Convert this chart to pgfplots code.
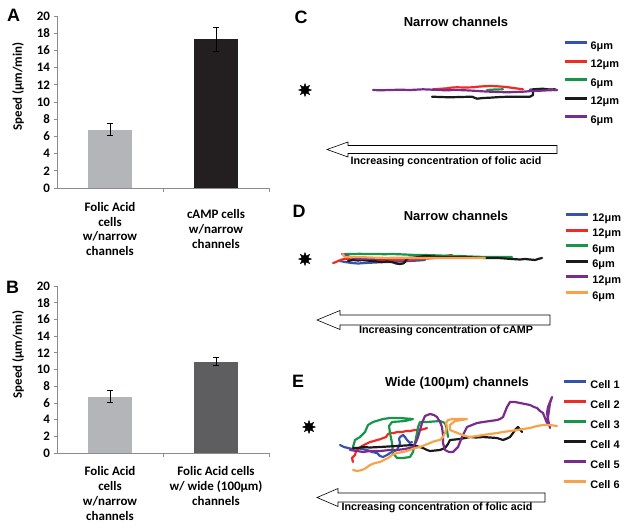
\documentclass[border=0pt]{standalone}
\usepackage{pgfplots}
\pgfplotsset{compat=1.18}
\usepackage{fontspec}
\setmainfont{Liberation Sans}
\newfontfamily\carlito{Carlito}

\definecolor{barlight}{HTML}{B4B5B8}
\definecolor{bardark}{HTML}{231F20}
\definecolor{barmid}{HTML}{5E5E60}
\definecolor{axgray}{HTML}{8C8C8C}
\definecolor{tblue}{HTML}{3553A8}
\definecolor{tred}{HTML}{EE2B24}
\definecolor{tgreen}{HTML}{17964A}
\definecolor{tblack}{HTML}{1A1A1A}
\definecolor{tpurple}{HTML}{7A2C8C}
\definecolor{torange}{HTML}{F7A34B}

\pgfdeclareplotmark{burst}{%
  \pgfpathmoveto{\pgfpointpolar{90}{\pgfplotmarksize}}%
  \pgfpathlineto{\pgfpointpolar{112.5}{0.5\pgfplotmarksize}}%
  \pgfpathlineto{\pgfpointpolar{135}{\pgfplotmarksize}}%
  \pgfpathlineto{\pgfpointpolar{157.5}{0.5\pgfplotmarksize}}%
  \pgfpathlineto{\pgfpointpolar{180}{\pgfplotmarksize}}%
  \pgfpathlineto{\pgfpointpolar{202.5}{0.5\pgfplotmarksize}}%
  \pgfpathlineto{\pgfpointpolar{225}{\pgfplotmarksize}}%
  \pgfpathlineto{\pgfpointpolar{247.5}{0.5\pgfplotmarksize}}%
  \pgfpathlineto{\pgfpointpolar{270}{\pgfplotmarksize}}%
  \pgfpathlineto{\pgfpointpolar{292.5}{0.5\pgfplotmarksize}}%
  \pgfpathlineto{\pgfpointpolar{315}{\pgfplotmarksize}}%
  \pgfpathlineto{\pgfpointpolar{337.5}{0.5\pgfplotmarksize}}%
  \pgfpathlineto{\pgfpointpolar{0}{\pgfplotmarksize}}%
  \pgfpathlineto{\pgfpointpolar{22.5}{0.5\pgfplotmarksize}}%
  \pgfpathlineto{\pgfpointpolar{45}{\pgfplotmarksize}}%
  \pgfpathlineto{\pgfpointpolar{67.5}{0.5\pgfplotmarksize}}%
  \pgfpathclose\pgfusepathqfillstroke}

\pgfplotsset{
  barpanel/.style={
    scale only axis, width=212bp,
    axis lines*=left, axis line style={axgray, line width=0.7bp},
    xmin=-0.5, xmax=1.5, ymin=0, ymax=20, enlargelimits=false,
    ytick={0,2,...,20}, tick align=outside, major tick length=3.5bp,
    ytick style={axgray, line width=0.7bp},
    xtick={0,1}, xtick style={draw=none},
    extra x ticks={0.5,1.5}, extra x tick labels={},
    extra x tick style={xtick style={draw=axgray, line width=0.7bp}},
    tick label style={font=\carlito\bfseries\fontsize{13}{15}\selectfont},
    /pgf/number format/assume math mode=true,
    xticklabel style={align=center},
    ylabel={Speed (μm/min)},
    every axis y label/.style={at={(axis description cs:-0.184,0.59)}, rotate=90, anchor=center,
      font=\carlito\bfseries\fontsize{13}{14}\selectfont},
    ybar, bar width=44bp, bar shift=0pt,
  },
  ebar/.style={draw=none, fill=#1, error bars/.cd, y dir=both, y explicit,
    error bar style={black, line width=0.7bp},
    error mark options={rotate=90, mark size=3bp, black, line width=0.7bp}},
  trajpanel/.style={
    scale only axis, width=334bp, xmin=290, xmax=624, hide axis, clip=false,
    enlargelimits=false, y filter/.expression={-y},
    legend style={draw=none, fill=none, inner sep=0pt, outer sep=0pt,
      anchor=north west, cells={anchor=west},
      font=\bfseries\fontsize{11}{11}\selectfont,
      nodes={inner sep=0pt, text height=8bp, text depth=2bp}},
    legend image code/.code={\draw[##1, line width=3bp, line cap=butt] (0bp,3.5bp) -- (22bp,3.5bp);},
    /tikz/every odd column/.append style={column sep=2.5bp},
  },
  traj/.style={#1, line width=2.2bp, line join=round, line cap=round},
}

\begin{document}
\begin{tikzpicture}[x=1bp, y=1bp]
\path[use as bounding box] (0,0) rectangle (624,-531);

% ---------- Panel A ----------
\begin{axis}[barpanel, height=172bp, at={(57bp,-188bp)}, anchor=south west,
  xticklabels={{Folic Acid\\cells\\w/narrow\\channels},{cAMP cells\\w/narrow\\channels}},
  xticklabel style={anchor=center, yshift=-37.5bp}]
\addplot[ebar=barlight] coordinates {(0,6.8) +- (0,0.7)};
\addplot[ebar=bardark] coordinates {(1,17.3) +- (0,1.4)};
\end{axis}

% ---------- Panel B ----------
\begin{axis}[barpanel, height=167bp, at={(57bp,-453bp)}, anchor=south west,
  xticklabels={{Folic Acid\\cells\\w/narrow\\channels},{Folic Acid cells\\w/ wide (100μm)\\channels}},
  xticklabel style={anchor=north, yshift=-10bp, inner sep=0pt}]
\addplot[ebar=barlight] coordinates {(0,6.75) +- (0,0.7)};
\addplot[ebar=barmid] coordinates {(1,10.95) +- (0,0.5)};
\end{axis}

% ---------- Panel C ----------
\begin{axis}[trajpanel, height=180bp, ymin=-180, ymax=0, at={(290bp,-180bp)}, anchor=south west,
  legend style={at={(axis description cs:0.8174,0.772)}},
  legend style={row sep=8.5bp}]
\addplot[traj=tblue] coordinates {(530,89.5) (540,90) (550,89.8) (557,90)};
\addlegendentry{6μm}
\addplot[traj=tred] coordinates {(433,89.3) (440,88.8) (447,88.3) (452,87.5) (457,87.3) (465,87.5) (473,87.3) (480,86.5) (490,86) (497,86.3) (503,86.7) (510,87.5) (517,88.5) (523,89.3)};
\addlegendentry{12μm}
\addplot[traj=tgreen] coordinates {(487,90) (495,89.5) (503,89.3)};
\addlegendentry{6μm}
\addplot[traj=tblack] coordinates {(432,96.7) (440,97) (450,97.3) (460,97) (472,96.7) (477,98.7) (483,98) (490,97.7) (500,97) (510,96.7) (520,96.8) (530,96.7) (533,95) (533,93.3) (533,89.3) (538,89) (543,88.7) (549,89.5) (555,89.3)};
\addlegendentry{12μm}
\addplot[traj=tpurple] coordinates {(373,90) (380,90.3) (390,90) (400,89.7) (410,90) (423,89.3) (435,89.8) (445,90.3) (457,90) (465,90.3) (473,90.7) (482,91.3) (490,91.7) (498,92) (507,92.3) (515,92) (523,91.7) (532,91) (540,90.7) (550,90.2) (557,90)};
\addlegendentry{6μm}
\addplot[only marks, mark=burst, mark size=6.5bp, black, forget plot] coordinates {(305,90)};
\node[font=\bfseries\fontsize{13}{13}\selectfont] at (axis cs:456,-22) {Narrow channels};
\end{axis}

% ---------- Panel D ----------
\begin{axis}[trajpanel, height=160bp, ymin=-345, ymax=-185, at={(290bp,-345bp)}, anchor=south west,
  legend style={at={(axis description cs:0.823,0.825)}},
  legend style={row sep=5.6bp}]
\addplot[traj=tblue] coordinates {(340,261) (345,262) (352,263) (358,263.5) (365,263) (375,262.5) (385,262) (392,262) (400,261.5) (410,261) (418,260.5) (425,260)};
\addlegendentry{12μm}
\addplot[traj=tred] coordinates {(333,263) (336,262) (338,261) (342,259.5) (345,259) (352,259.5) (360,260) (368,260) (375,260) (385,260) (395,260) (408,260) (418,259) (428,258.5) (435,258) (442,256.5) (448,255.5) (452,255)};
\addlegendentry{12μm}
\addplot[traj=tgreen] coordinates {(345,254) (352,254) (360,253.8) (365,254) (375,254) (385,254.2) (392,254) (405,254.5) (415,255) (425,255) (440,255.5) (450,256) (458,256) (470,256.5) (485,257) (500,257) (512,257)};
\addlegendentry{6μm}
\addplot[traj=tblack] coordinates {(348,261) (353,260) (358,260.5) (362,260) (367,260.5) (372,261) (377,261.5) (382,262) (387,261.5) (392,262) (396,263.5) (400,264) (403,263.5) (405,262) (406,260) (408,258) (415,257.5) (425,256) (433,256.5) (442,257) (452,257.2) (465,257) (475,257.5) (485,258) (498,258) (505,258.5) (512,259) (520,259.5) (525,259) (530,259.5) (535,260) (538,259) (542,258)};
\addlegendentry{6μm}
\addplot[traj=tpurple] coordinates {(342,254) (344,254.5) (345,255) (350,257) (358,259) (368,258.8) (380,258.5) (392,258) (405,258) (418,258)};
\addlegendentry{12μm}
\addplot[traj=torange] coordinates {(343,254) (344,256) (345,257) (352,257) (358,257) (370,257.5) (380,257.8) (392,258) (405,258) (415,258) (425,258) (440,258) (458,258) (470,258) (485,258)};
\addlegendentry{6μm}
\addplot[only marks, mark=burst, mark size=6.5bp, black, forget plot] coordinates {(305,259)};
\node[font=\bfseries\fontsize{13}{13}\selectfont] at (axis cs:456,-216) {Narrow channels};
\end{axis}

% ---------- Panel E ----------
\begin{axis}[trajpanel, height=181bp, ymin=-531, ymax=-350, at={(290bp,-531bp)}, anchor=south west,
  legend style={at={(axis description cs:0.817,0.834)}},
  legend style={row sep=10bp}]
\addplot[traj=tblue] coordinates {(340,445) (344,447) (348,448) (352,449) (357,448) (362,449) (367,450) (372,452) (377,453) (380,456) (383,457) (387,455) (390,453) (394,451) (397,450) (399,446) (400,443) (399,439) (400,437) (403,435) (405,437) (407,440) (410,443) (412,442)};
\addlegendentry{Cell 1}
\addplot[traj=tred] coordinates {(353,462) (352,458) (355,455) (356,451) (358,449) (362,446) (366,444) (370,442) (374,441) (377,440) (381,439) (383,438) (386,437) (388,434) (390,433) (394,433) (397,432) (402,432) (406,431) (410,431) (415,430) (420,430) (424,429) (427,428)};
\addlegendentry{Cell 2}
\addplot[traj=tgreen] coordinates {(353,447) (355,440) (360,437) (365,432) (368,425) (373,422) (383,419) (390,418) (400,418) (413,419) (405,421) (392,422) (389,426) (390,433) (392,443) (393,453) (397,458) (403,458) (410,457) (413,452) (415,443) (417,433) (418,427) (420,422) (427,422) (440,421) (445,423) (447,430) (448,437)};
\addlegendentry{Cell 3}
\addplot[traj=tblack] coordinates {(353,448) (358,448) (363,447) (370,447.5) (380,447) (388,446.5) (397,446) (405,445.5) (413,445) (418,446.5) (423,448) (427,450) (430,451) (435,450.5) (440,450) (445,448) (448,444) (450,440) (455,439.5) (460,439) (465,438) (470,437) (476,437.5) (483,437) (490,437.5) (497,438) (503,440) (507,438.5) (510,437) (513,433) (515,430) (518,427) (522,432)};
\addlegendentry{Cell 4}
\addplot[traj=tpurple] coordinates {(350,450) (357,451) (363,452) (370,451) (380,451) (390,450) (397,450) (405,449) (413,447) (416,442) (418,437) (420,430) (422,423) (425,416) (430,414) (434,415) (437,417) (440,422) (442,427) (443,435) (443,443) (445,450) (449,452) (453,452) (456,449) (458,447) (460,442) (462,437) (465,431) (467,427) (472,425) (477,423) (483,422) (490,421) (497,420) (500,419) (503,417) (505,412) (507,407) (510,402) (515,402) (520,403) (525,404) (530,405) (534,407) (537,408) (540,411) (543,413) (545,418) (547,423) (548,417) (549,410) (550,403) (552,397) (550,402) (548,407) (547,413) (548,419) (549,424) (550,428)};
\addlegendentry{Cell 5}
\addplot[traj=torange] coordinates {(353,470) (357,471) (362,470) (366,468) (370,465) (375,463) (380,462) (384,460) (388,458) (392,455) (397,453) (403,452) (410,450) (415,448) (420,447) (425,445) (430,443) (435,441) (440,440) (443,437) (445,433) (447,427) (446,423) (448,420) (453,419) (460,419) (467,419) (462,420) (455,421) (450,425) (450,430) (455,432) (460,434) (465,436) (470,437) (477,436) (483,435) (490,434) (497,433) (503,432) (510,431) (517,430) (523,429) (530,428) (537,426) (543,425) (550,425) (557,426)};
\addlegendentry{Cell 6}
\addplot[only marks, mark=burst, mark size=6.5bp, black, forget plot] coordinates {(309,427)};
\node[font=\bfseries\fontsize{13}{13}\selectfont] at (axis cs:457,-383) {Wide (100μm) channels};
\end{axis}

% ---------- Arrows and texts ----------
\draw[fill=white, line width=0.6bp] (557,-145.5) -- (348,-145.5) -- (348,-142) -- (327,-149.5) -- (348,-157) -- (348,-153.5) -- (557,-153.5) -- cycle;
\node[font=\bfseries\fontsize{10.8}{11}\selectfont] at (446,-161.5) {Increasing concentration of folic acid};
\draw[fill=white, line width=0.6bp] (550,-315) -- (340,-315) -- (340,-310.5) -- (317,-320) -- (340,-329.5) -- (340,-325) -- (550,-325) -- cycle;
\node[font=\bfseries\fontsize{10.8}{11}\selectfont] at (446,-331) {Increasing concentration of cAMP};
\draw[fill=white, line width=0.6bp] (545,-493) -- (338,-493) -- (338,-488.5) -- (317,-497.5) -- (338,-506.5) -- (338,-502) -- (545,-502) -- cycle;
\node[font=\bfseries\fontsize{10.8}{11}\selectfont] at (437,-507.5) {Increasing concentration of folic acid};

% ---------- Panel letters ----------
\node[font=\bfseries\fontsize{18}{18}\selectfont] at (13.5,-15.5) {A};
\node[font=\bfseries\fontsize{18}{18}\selectfont] at (12.5,-287.5) {B};
\node[font=\bfseries\fontsize{18}{18}\selectfont] at (301,-17.5) {C};
\node[font=\bfseries\fontsize{18}{18}\selectfont] at (299,-211) {D};
\node[font=\bfseries\fontsize{18}{18}\selectfont] at (298,-381) {E};
\end{tikzpicture}
\end{document}
